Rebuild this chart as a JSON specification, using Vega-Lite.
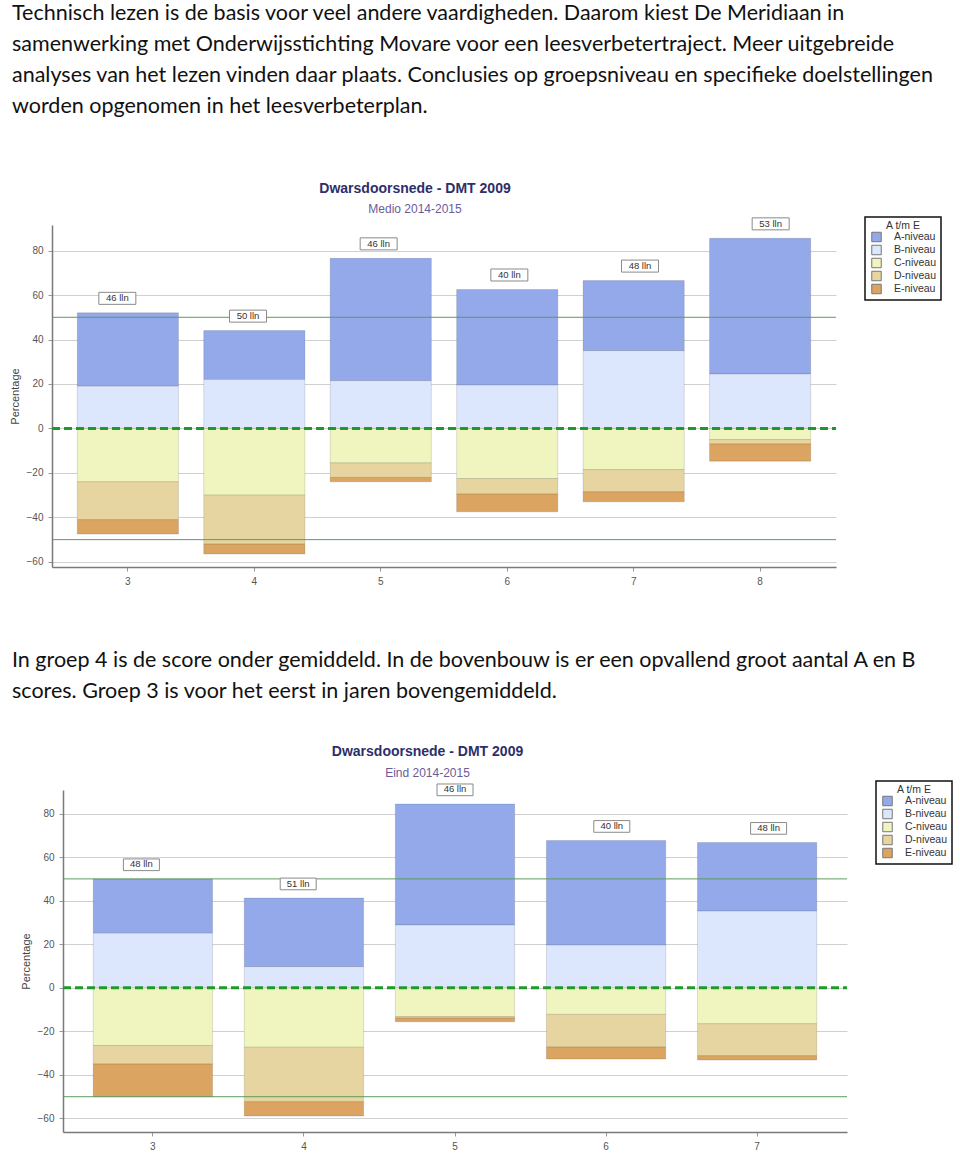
{
  "$schema": "https://vega.github.io/schema/vega-lite/v6.json",
  "padding": {"left": 9, "top": 0, "right": 0, "bottom": 0},
  "background": "white",
  "bounds": "flush",
  "spacing": 0,
  "resolve": {"scale": {"color": "independent"}, "legend": {"color": "independent"}},
  "datasets": {
    "medio": [
      {"groep": "3", "lln": "46 lln", "niveau": "A-niveau", "pct": 33},
      {"groep": "3", "lln": "46 lln", "niveau": "B-niveau", "pct": 19},
      {"groep": "3", "lln": "46 lln", "niveau": "C-niveau", "pct": -24},
      {"groep": "3", "lln": "46 lln", "niveau": "D-niveau", "pct": -17},
      {"groep": "3", "lln": "46 lln", "niveau": "E-niveau", "pct": -6.5},
      {"groep": "4", "lln": "50 lln", "niveau": "A-niveau", "pct": 22},
      {"groep": "4", "lln": "50 lln", "niveau": "B-niveau", "pct": 22},
      {"groep": "4", "lln": "50 lln", "niveau": "C-niveau", "pct": -30},
      {"groep": "4", "lln": "50 lln", "niveau": "D-niveau", "pct": -22},
      {"groep": "4", "lln": "50 lln", "niveau": "E-niveau", "pct": -4.5},
      {"groep": "5", "lln": "46 lln", "niveau": "A-niveau", "pct": 55},
      {"groep": "5", "lln": "46 lln", "niveau": "B-niveau", "pct": 21.5},
      {"groep": "5", "lln": "46 lln", "niveau": "C-niveau", "pct": -15.5},
      {"groep": "5", "lln": "46 lln", "niveau": "D-niveau", "pct": -6.5},
      {"groep": "5", "lln": "46 lln", "niveau": "E-niveau", "pct": -2},
      {"groep": "6", "lln": "40 lln", "niveau": "A-niveau", "pct": 43},
      {"groep": "6", "lln": "40 lln", "niveau": "B-niveau", "pct": 19.5},
      {"groep": "6", "lln": "40 lln", "niveau": "C-niveau", "pct": -22.5},
      {"groep": "6", "lln": "40 lln", "niveau": "D-niveau", "pct": -7},
      {"groep": "6", "lln": "40 lln", "niveau": "E-niveau", "pct": -8},
      {"groep": "7", "lln": "48 lln", "niveau": "A-niveau", "pct": 31.5},
      {"groep": "7", "lln": "48 lln", "niveau": "B-niveau", "pct": 35},
      {"groep": "7", "lln": "48 lln", "niveau": "C-niveau", "pct": -18.5},
      {"groep": "7", "lln": "48 lln", "niveau": "D-niveau", "pct": -10},
      {"groep": "7", "lln": "48 lln", "niveau": "E-niveau", "pct": -4.5},
      {"groep": "8", "lln": "53 lln", "niveau": "A-niveau", "pct": 61},
      {"groep": "8", "lln": "53 lln", "niveau": "B-niveau", "pct": 24.5},
      {"groep": "8", "lln": "53 lln", "niveau": "C-niveau", "pct": -5},
      {"groep": "8", "lln": "53 lln", "niveau": "D-niveau", "pct": -2},
      {"groep": "8", "lln": "53 lln", "niveau": "E-niveau", "pct": -7.7}
    ],
    "eind": [
      {"groep": "3", "lln": "48 lln", "niveau": "A-niveau", "pct": 25},
      {"groep": "3", "lln": "48 lln", "niveau": "B-niveau", "pct": 25},
      {"groep": "3", "lln": "48 lln", "niveau": "C-niveau", "pct": -26.5},
      {"groep": "3", "lln": "48 lln", "niveau": "D-niveau", "pct": -8.5},
      {"groep": "3", "lln": "48 lln", "niveau": "E-niveau", "pct": -15},
      {"groep": "4", "lln": "51 lln", "niveau": "A-niveau", "pct": 31.5},
      {"groep": "4", "lln": "51 lln", "niveau": "B-niveau", "pct": 9.7},
      {"groep": "4", "lln": "51 lln", "niveau": "C-niveau", "pct": -27.3},
      {"groep": "4", "lln": "51 lln", "niveau": "D-niveau", "pct": -25},
      {"groep": "4", "lln": "51 lln", "niveau": "E-niveau", "pct": -6.6},
      {"groep": "5", "lln": "46 lln", "niveau": "A-niveau", "pct": 55.6},
      {"groep": "5", "lln": "46 lln", "niveau": "B-niveau", "pct": 28.8},
      {"groep": "5", "lln": "46 lln", "niveau": "C-niveau", "pct": -13.2},
      {"groep": "5", "lln": "46 lln", "niveau": "D-niveau", "pct": -0.7},
      {"groep": "5", "lln": "46 lln", "niveau": "E-niveau", "pct": -1.7},
      {"groep": "6", "lln": "40 lln", "niveau": "A-niveau", "pct": 48},
      {"groep": "6", "lln": "40 lln", "niveau": "B-niveau", "pct": 19.6},
      {"groep": "6", "lln": "40 lln", "niveau": "C-niveau", "pct": -12.2},
      {"groep": "6", "lln": "40 lln", "niveau": "D-niveau", "pct": -15},
      {"groep": "6", "lln": "40 lln", "niveau": "E-niveau", "pct": -5.5},
      {"groep": "7", "lln": "48 lln", "niveau": "A-niveau", "pct": 31.5},
      {"groep": "7", "lln": "48 lln", "niveau": "B-niveau", "pct": 35.2},
      {"groep": "7", "lln": "48 lln", "niveau": "C-niveau", "pct": -16.5},
      {"groep": "7", "lln": "48 lln", "niveau": "D-niveau", "pct": -14.7},
      {"groep": "7", "lln": "48 lln", "niveau": "E-niveau", "pct": -2}
    ],
    "refs": [{"ref": 50}, {"ref": -50}],
    "zero": [{"ref": 0}]
  },
  "vconcat": [
    {
      "width": 940,
      "height": 225,
      "data": {"values": [
        {"line": 1, "text": "Technisch lezen is de basis voor veel andere vaardigheden. Daarom kiest De Meridiaan in"},
        {"line": 2, "text": "samenwerking met Onderwijsstichting Movare voor een leesverbetertraject. Meer uitgebreide"},
        {"line": 3, "text": "analyses van het lezen vinden daar plaats. Conclusies op groepsniveau en specifieke doelstellingen"},
        {"line": 4, "text": "worden opgenomen in het leesverbeterplan."}
      ]},
      "mark": {"type": "text", "align": "left", "baseline": "alphabetic", "font": "Lato", "fontSize": 21.5, "color": "#111"},
      "encoding": {
        "x": {"value": 0},
        "y": {"field": "line", "type": "ordinal", "axis": null, "scale": {"type": "point", "padding": 0, "range": [19.5, 113]}},
        "text": {"field": "text"}
      }
    },
    {
      "width": 824,
      "height": 342,
      "data": {"name": "medio"},
      "title": {"text": "Dwarsdoorsnede - DMT 2009", "subtitle": "Medio 2014-2015", "anchor": "middle", "dx": -9, "offset": 1, "subtitlePadding": 8, "font": "Liberation Sans", "fontSize": 14, "fontWeight": "bold", "color": "#2e2e6a", "subtitleFont": "Liberation Sans", "subtitleFontSize": 12, "subtitleColor": "#6a5c9c"},
      "resolve": {"scale": {"x": "independent"}},
      "layer": [
        {
          "encoding": {
            "x": {"field": "groep", "type": "ordinal", "scale": {"range": [40, 824], "paddingInner": 0.2, "paddingOuter": 0.2}, "axis": {"title": null, "labelAngle": 0}},
            "color": {"field": "niveau", "type": "nominal", "scale": {"domain": ["A-niveau", "B-niveau", "C-niveau", "D-niveau", "E-niveau"], "range": ["#93a9e9", "#dce6fd", "#f0f4be", "#e6d5a0", "#dba460"]}, "legend": {"title": "A t/m E", "orient": "none", "legendX": 853, "legendY": -8}}
          },
          "layer": [
            {
              "transform": [{"filter": "datum.pct > 0"}],
              "mark": {"type": "bar", "stroke": "#000", "strokeOpacity": 0.12, "strokeWidth": 1},
              "encoding": {
                "y": {"field": "pct", "type": "quantitative", "stack": "zero", "scale": {"domain": [-62.3, 91.5], "nice": false, "zero": false}, "axis": {"title": "Percentage", "offset": -40, "values": [-60, -40, -20, 0, 20, 40, 60, 80]}},
                "order": {"field": "niveau", "sort": "descending"}
              }
            },
            {
              "transform": [{"filter": "datum.pct < 0"}],
              "mark": {"type": "bar", "stroke": "#000", "strokeOpacity": 0.12, "strokeWidth": 1},
              "encoding": {
                "y": {"field": "pct", "type": "quantitative", "stack": "zero"},
                "order": {"field": "niveau", "sort": "ascending"}
              }
            }
          ]
        },
        {
          "data": {"name": "refs"},
          "mark": {"type": "rule", "color": "#5f9a5f", "strokeWidth": 1},
          "encoding": {
            "x": {"datum": 0, "type": "quantitative", "scale": {"domain": [0, 1], "range": [40, 824]}, "axis": null},
            "x2": {"datum": 1},
            "y": {"field": "ref", "type": "quantitative"}
          }
        },
        {
          "data": {"name": "zero"},
          "mark": {"type": "rule", "color": "#1f9a2a", "strokeWidth": 3, "strokeDash": [8, 4]},
          "encoding": {
            "x": {"datum": 0, "type": "quantitative", "scale": {"domain": [0, 1], "range": [40, 824]}, "axis": null},
            "x2": {"datum": 1},
            "y": {"field": "ref", "type": "quantitative"}
          }
        },
        {
          "transform": [{"filter": "datum.pct > 0"}, {"aggregate": [{"op": "sum", "field": "pct", "as": "top"}], "groupby": ["groep", "lln"]}],
          "encoding": {
            "x": {"field": "groep", "type": "ordinal", "scale": {"range": [40, 824], "paddingInner": 0.2, "paddingOuter": 0.2}, "axis": null},
            "y": {"field": "top", "type": "quantitative"}
          },
          "layer": [
            {"mark": {"type": "point", "shape": "M-1,-1.108H1V-0.459H-1Z", "size": 1369, "filled": true, "fill": "white", "stroke": "#8a8a8a", "strokeWidth": 1, "opacity": 1}},
            {"mark": {"type": "text", "dy": -14.5, "baseline": "middle", "font": "Liberation Sans", "fontSize": 9.5, "color": "#333"}, "encoding": {"text": {"field": "lln"}}}
          ]
        }
      ]
    },
    {
      "width": 940,
      "height": 223,
      "data": {"values": [
        {"line": 1, "text": "In groep 4 is de score onder gemiddeld. In de bovenbouw is er een opvallend groot aantal A en B"},
        {"line": 2, "text": "scores. Groep 3 is voor het eerst in jaren bovengemiddeld."}
      ]},
      "mark": {"type": "text", "align": "left", "baseline": "alphabetic", "font": "Lato", "fontSize": 21.5, "color": "#111"},
      "encoding": {
        "x": {"value": 0},
        "y": {"field": "line", "type": "ordinal", "axis": null, "scale": {"type": "point", "padding": 0, "range": [100, 131]}},
        "text": {"field": "text"}
      }
    },
    {
      "width": 835,
      "height": 342,
      "data": {"name": "eind"},
      "title": {"text": "Dwarsdoorsnede - DMT 2009", "subtitle": "Eind 2014-2015", "anchor": "middle", "dx": -2, "offset": 1, "subtitlePadding": 9, "font": "Liberation Sans", "fontSize": 14, "fontWeight": "bold", "color": "#2e2e6a", "subtitleFont": "Liberation Sans", "subtitleFontSize": 12, "subtitleColor": "#6a5c9c"},
      "resolve": {"scale": {"x": "independent"}},
      "layer": [
        {
          "encoding": {
            "x": {"field": "groep", "type": "ordinal", "scale": {"range": [51, 835], "paddingInner": 0.21, "paddingOuter": 0.2}, "axis": {"title": null, "labelAngle": 0}},
            "color": {"field": "niveau", "type": "nominal", "scale": {"domain": ["A-niveau", "B-niveau", "C-niveau", "D-niveau", "E-niveau"], "range": ["#93a9e9", "#dce6fd", "#f0f4be", "#e6d5a0", "#dba460"]}, "legend": {"title": "A t/m E", "orient": "none", "legendX": 864, "legendY": -9}}
          },
          "layer": [
            {
              "transform": [{"filter": "datum.pct > 0"}],
              "mark": {"type": "bar", "stroke": "#000", "strokeOpacity": 0.12, "strokeWidth": 1},
              "encoding": {
                "y": {"field": "pct", "type": "quantitative", "stack": "zero", "scale": {"domain": [-66.2, 90.8], "nice": false, "zero": false}, "axis": {"title": "Percentage", "offset": -51, "values": [-60, -40, -20, 0, 20, 40, 60, 80]}},
                "order": {"field": "niveau", "sort": "descending"}
              }
            },
            {
              "transform": [{"filter": "datum.pct < 0"}],
              "mark": {"type": "bar", "stroke": "#000", "strokeOpacity": 0.12, "strokeWidth": 1},
              "encoding": {
                "y": {"field": "pct", "type": "quantitative", "stack": "zero"},
                "order": {"field": "niveau", "sort": "ascending"}
              }
            }
          ]
        },
        {
          "data": {"name": "refs"},
          "mark": {"type": "rule", "color": "#5f9a5f", "strokeWidth": 1},
          "encoding": {
            "x": {"datum": 0, "type": "quantitative", "scale": {"domain": [0, 1], "range": [51, 835]}, "axis": null},
            "x2": {"datum": 1},
            "y": {"field": "ref", "type": "quantitative"}
          }
        },
        {
          "data": {"name": "zero"},
          "mark": {"type": "rule", "color": "#1f9a2a", "strokeWidth": 3, "strokeDash": [8, 4]},
          "encoding": {
            "x": {"datum": 0, "type": "quantitative", "scale": {"domain": [0, 1], "range": [51, 835]}, "axis": null},
            "x2": {"datum": 1},
            "y": {"field": "ref", "type": "quantitative"}
          }
        },
        {
          "transform": [{"filter": "datum.pct > 0"}, {"aggregate": [{"op": "sum", "field": "pct", "as": "top"}], "groupby": ["groep", "lln"]}],
          "encoding": {
            "x": {"field": "groep", "type": "ordinal", "scale": {"range": [51, 835], "paddingInner": 0.21, "paddingOuter": 0.2}, "axis": null},
            "y": {"field": "top", "type": "quantitative"}
          },
          "layer": [
            {"mark": {"type": "point", "shape": "M-1,-1.108H1V-0.459H-1Z", "size": 1296, "filled": true, "fill": "white", "stroke": "#8a8a8a", "strokeWidth": 1, "opacity": 1}},
            {"mark": {"type": "text", "dy": -14.5, "baseline": "middle", "font": "Liberation Sans", "fontSize": 9.5, "color": "#333"}, "encoding": {"text": {"field": "lln"}}}
          ]
        }
      ]
    }
  ],
  "config": {
    "view": {"stroke": null},
    "font": "Liberation Sans",
    "axis": {"domainColor": "#7a7a7a", "domainWidth": 1.5, "tickColor": "#999", "tickSize": 4, "labelColor": "#555", "labelFontSize": 10, "labelFont": "Liberation Sans", "labelPadding": 5, "titleFont": "Liberation Sans", "titleFontSize": 11, "titleFontWeight": "normal", "titleColor": "#444", "gridColor": "#d0d0d0", "gridWidth": 1},
    "axisY": {"titlePadding": 6},
    "axisX": {"grid": false},
    "legend": {"fillColor": "white", "strokeColor": "#111", "strokeWidth": 1.5, "padding": 4, "titleFontSize": 10.5, "titleFontWeight": "normal", "titleColor": "#333", "titleFont": "Liberation Sans", "titleAnchor": "middle", "titlePadding": 0, "labelFontSize": 10.5, "labelFont": "Liberation Sans", "labelColor": "#333", "labelOffset": 12, "symbolType": "square", "symbolSize": 90, "symbolOffset": 2, "symbolStrokeColor": "#777", "symbolStrokeWidth": 1, "rowPadding": -3.5}
  }
}
